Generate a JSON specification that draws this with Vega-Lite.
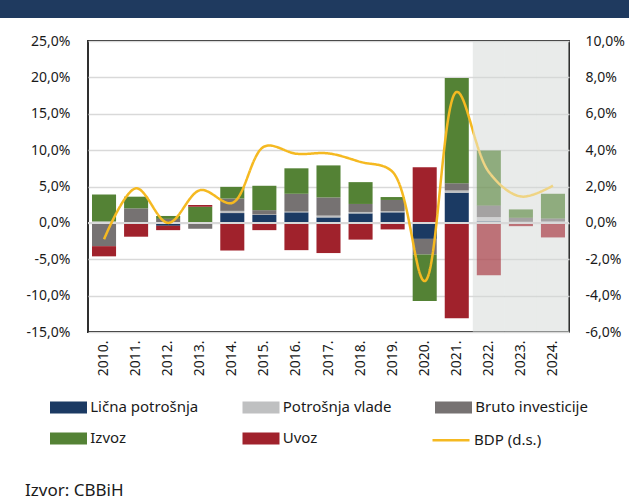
{
  "$schema": "https://vega.github.io/schema/vega-lite/v6.json",
  "padding": 0,
  "background": "white",
  "spacing": 15,
  "config": {
    "font": "Noto Sans",
    "view": {"stroke": null},
    "axis": {"labelFont": "Noto Sans", "labelColor": "#1a1a1a"},
    "legend": {"labelFont": "Noto Sans", "labelColor": "#1a1a1a"}
  },
  "resolve": {"legend": {"color": "independent", "strokeDash": "independent"}},
  "datasets": {
    "komponente": [
      {"godina": "2010.", "komponenta": "Lična potrošnja", "red": 1, "faza": "ostvarenje", "doprinos": 0.1},
      {"godina": "2010.", "komponenta": "Potrošnja vlade", "red": 2, "faza": "ostvarenje", "doprinos": 0.1},
      {"godina": "2010.", "komponenta": "Bruto investicije", "red": 3, "faza": "ostvarenje", "doprinos": -3.2},
      {"godina": "2010.", "komponenta": "Izvoz", "red": 4, "faza": "ostvarenje", "doprinos": 3.7},
      {"godina": "2010.", "komponenta": "Uvoz", "red": 5, "faza": "ostvarenje", "doprinos": -1.4},
      {"godina": "2011.", "komponenta": "Lična potrošnja", "red": 1, "faza": "ostvarenje", "doprinos": 0.05},
      {"godina": "2011.", "komponenta": "Potrošnja vlade", "red": 2, "faza": "ostvarenje", "doprinos": 0.05},
      {"godina": "2011.", "komponenta": "Bruto investicije", "red": 3, "faza": "ostvarenje", "doprinos": 1.9},
      {"godina": "2011.", "komponenta": "Izvoz", "red": 4, "faza": "ostvarenje", "doprinos": 1.6},
      {"godina": "2011.", "komponenta": "Uvoz", "red": 5, "faza": "ostvarenje", "doprinos": -1.9},
      {"godina": "2012.", "komponenta": "Lična potrošnja", "red": 1, "faza": "ostvarenje", "doprinos": -0.4},
      {"godina": "2012.", "komponenta": "Potrošnja vlade", "red": 2, "faza": "ostvarenje", "doprinos": 0.1},
      {"godina": "2012.", "komponenta": "Bruto investicije", "red": 3, "faza": "ostvarenje", "doprinos": 0.45},
      {"godina": "2012.", "komponenta": "Izvoz", "red": 4, "faza": "ostvarenje", "doprinos": 0.4},
      {"godina": "2012.", "komponenta": "Uvoz", "red": 5, "faza": "ostvarenje", "doprinos": -0.6},
      {"godina": "2013.", "komponenta": "Lična potrošnja", "red": 1, "faza": "ostvarenje", "doprinos": 0.05},
      {"godina": "2013.", "komponenta": "Potrošnja vlade", "red": 2, "faza": "ostvarenje", "doprinos": 0.05},
      {"godina": "2013.", "komponenta": "Bruto investicije", "red": 3, "faza": "ostvarenje", "doprinos": -0.8},
      {"godina": "2013.", "komponenta": "Izvoz", "red": 4, "faza": "ostvarenje", "doprinos": 2.1},
      {"godina": "2013.", "komponenta": "Uvoz", "red": 5, "faza": "ostvarenje", "doprinos": 0.25},
      {"godina": "2014.", "komponenta": "Lična potrošnja", "red": 1, "faza": "ostvarenje", "doprinos": 1.35},
      {"godina": "2014.", "komponenta": "Potrošnja vlade", "red": 2, "faza": "ostvarenje", "doprinos": 0.3},
      {"godina": "2014.", "komponenta": "Bruto investicije", "red": 3, "faza": "ostvarenje", "doprinos": 1.7},
      {"godina": "2014.", "komponenta": "Izvoz", "red": 4, "faza": "ostvarenje", "doprinos": 1.6},
      {"godina": "2014.", "komponenta": "Uvoz", "red": 5, "faza": "ostvarenje", "doprinos": -3.8},
      {"godina": "2015.", "komponenta": "Lična potrošnja", "red": 1, "faza": "ostvarenje", "doprinos": 1.1},
      {"godina": "2015.", "komponenta": "Potrošnja vlade", "red": 2, "faza": "ostvarenje", "doprinos": 0.05},
      {"godina": "2015.", "komponenta": "Bruto investicije", "red": 3, "faza": "ostvarenje", "doprinos": 0.6},
      {"godina": "2015.", "komponenta": "Izvoz", "red": 4, "faza": "ostvarenje", "doprinos": 3.35},
      {"godina": "2015.", "komponenta": "Uvoz", "red": 5, "faza": "ostvarenje", "doprinos": -1.0},
      {"godina": "2016.", "komponenta": "Lična potrošnja", "red": 1, "faza": "ostvarenje", "doprinos": 1.45},
      {"godina": "2016.", "komponenta": "Potrošnja vlade", "red": 2, "faza": "ostvarenje", "doprinos": 0.1},
      {"godina": "2016.", "komponenta": "Bruto investicije", "red": 3, "faza": "ostvarenje", "doprinos": 2.45},
      {"godina": "2016.", "komponenta": "Izvoz", "red": 4, "faza": "ostvarenje", "doprinos": 3.5},
      {"godina": "2016.", "komponenta": "Uvoz", "red": 5, "faza": "ostvarenje", "doprinos": -3.75},
      {"godina": "2017.", "komponenta": "Lična potrošnja", "red": 1, "faza": "ostvarenje", "doprinos": 0.75},
      {"godina": "2017.", "komponenta": "Potrošnja vlade", "red": 2, "faza": "ostvarenje", "doprinos": 0.25},
      {"godina": "2017.", "komponenta": "Bruto investicije", "red": 3, "faza": "ostvarenje", "doprinos": 2.5},
      {"godina": "2017.", "komponenta": "Izvoz", "red": 4, "faza": "ostvarenje", "doprinos": 4.4},
      {"godina": "2017.", "komponenta": "Uvoz", "red": 5, "faza": "ostvarenje", "doprinos": -4.15},
      {"godina": "2018.", "komponenta": "Lična potrošnja", "red": 1, "faza": "ostvarenje", "doprinos": 1.3},
      {"godina": "2018.", "komponenta": "Potrošnja vlade", "red": 2, "faza": "ostvarenje", "doprinos": 0.2},
      {"godina": "2018.", "komponenta": "Bruto investicije", "red": 3, "faza": "ostvarenje", "doprinos": 1.1},
      {"godina": "2018.", "komponenta": "Izvoz", "red": 4, "faza": "ostvarenje", "doprinos": 3.0},
      {"godina": "2018.", "komponenta": "Uvoz", "red": 5, "faza": "ostvarenje", "doprinos": -2.3},
      {"godina": "2019.", "komponenta": "Lična potrošnja", "red": 1, "faza": "ostvarenje", "doprinos": 1.45},
      {"godina": "2019.", "komponenta": "Potrošnja vlade", "red": 2, "faza": "ostvarenje", "doprinos": 0.15},
      {"godina": "2019.", "komponenta": "Bruto investicije", "red": 3, "faza": "ostvarenje", "doprinos": 1.55},
      {"godina": "2019.", "komponenta": "Izvoz", "red": 4, "faza": "ostvarenje", "doprinos": 0.4},
      {"godina": "2019.", "komponenta": "Uvoz", "red": 5, "faza": "ostvarenje", "doprinos": -0.9},
      {"godina": "2020.", "komponenta": "Lična potrošnja", "red": 1, "faza": "ostvarenje", "doprinos": -2.2},
      {"godina": "2020.", "komponenta": "Potrošnja vlade", "red": 2, "faza": "ostvarenje", "doprinos": 0.0},
      {"godina": "2020.", "komponenta": "Bruto investicije", "red": 3, "faza": "ostvarenje", "doprinos": -2.15},
      {"godina": "2020.", "komponenta": "Izvoz", "red": 4, "faza": "ostvarenje", "doprinos": -6.4},
      {"godina": "2020.", "komponenta": "Uvoz", "red": 5, "faza": "ostvarenje", "doprinos": 7.65},
      {"godina": "2021.", "komponenta": "Lična potrošnja", "red": 1, "faza": "ostvarenje", "doprinos": 4.15},
      {"godina": "2021.", "komponenta": "Potrošnja vlade", "red": 2, "faza": "ostvarenje", "doprinos": 0.3},
      {"godina": "2021.", "komponenta": "Bruto investicije", "red": 3, "faza": "ostvarenje", "doprinos": 1.0},
      {"godina": "2021.", "komponenta": "Izvoz", "red": 4, "faza": "ostvarenje", "doprinos": 14.45},
      {"godina": "2021.", "komponenta": "Uvoz", "red": 5, "faza": "ostvarenje", "doprinos": -13.1},
      {"godina": "2022.", "komponenta": "Lična potrošnja", "red": 1, "faza": "projekcija", "doprinos": 0.2},
      {"godina": "2022.", "komponenta": "Potrošnja vlade", "red": 2, "faza": "projekcija", "doprinos": 0.6},
      {"godina": "2022.", "komponenta": "Bruto investicije", "red": 3, "faza": "projekcija", "doprinos": 1.6},
      {"godina": "2022.", "komponenta": "Izvoz", "red": 4, "faza": "projekcija", "doprinos": 7.55},
      {"godina": "2022.", "komponenta": "Uvoz", "red": 5, "faza": "projekcija", "doprinos": -7.2},
      {"godina": "2023.", "komponenta": "Lična potrošnja", "red": 1, "faza": "projekcija", "doprinos": 0.05},
      {"godina": "2023.", "komponenta": "Potrošnja vlade", "red": 2, "faza": "projekcija", "doprinos": 0.1},
      {"godina": "2023.", "komponenta": "Bruto investicije", "red": 3, "faza": "projekcija", "doprinos": 0.55},
      {"godina": "2023.", "komponenta": "Izvoz", "red": 4, "faza": "projekcija", "doprinos": 1.15},
      {"godina": "2023.", "komponenta": "Uvoz", "red": 5, "faza": "projekcija", "doprinos": -0.45},
      {"godina": "2024.", "komponenta": "Lična potrošnja", "red": 1, "faza": "projekcija", "doprinos": 0.05},
      {"godina": "2024.", "komponenta": "Potrošnja vlade", "red": 2, "faza": "projekcija", "doprinos": 0.15},
      {"godina": "2024.", "komponenta": "Bruto investicije", "red": 3, "faza": "projekcija", "doprinos": 0.4},
      {"godina": "2024.", "komponenta": "Izvoz", "red": 4, "faza": "projekcija", "doprinos": 3.4},
      {"godina": "2024.", "komponenta": "Uvoz", "red": 5, "faza": "projekcija", "doprinos": -2.0}
    ],
    "bdp": [
      {"godina": "2010.", "rast": -0.9},
      {"godina": "2011.", "rast": 1.9},
      {"godina": "2012.", "rast": 0.0},
      {"godina": "2013.", "rast": 1.8},
      {"godina": "2014.", "rast": 1.1},
      {"godina": "2015.", "rast": 4.2},
      {"godina": "2016.", "rast": 3.8},
      {"godina": "2017.", "rast": 3.82},
      {"godina": "2018.", "rast": 3.35},
      {"godina": "2019.", "rast": 2.8},
      {"godina": "2020.", "rast": -3.2},
      {"godina": "2021.", "rast": 7.2},
      {"godina": "2022.", "rast": 2.8},
      {"godina": "2023.", "rast": 1.45},
      {"godina": "2024.", "rast": 2.05}
    ],
    "projekcija": [
      {"godina": "2022."},
      {"godina": "2023."},
      {"godina": "2024."}
    ]
  },
  "vconcat": [
    {
      "width": 629,
      "height": 18,
      "view": {"fill": "#1f3a5f", "stroke": null},
      "data": {"values": [{"naslov": ""}]},
      "mark": {"type": "text", "color": "white"},
      "encoding": {"text": {"field": "naslov", "type": "nominal"}}
    },
    {
      "spacing": 0,
      "resolve": {"legend": {"color": "independent", "strokeDash": "independent"}},
      "hconcat": [
        {
          "width": 24,
          "height": 10,
          "view": {"stroke": null, "fill": null},
          "data": {"values": [{"prazno": ""}]},
          "mark": {"type": "text"},
          "encoding": {"text": {"field": "prazno", "type": "nominal"}}
        },
        {
          "width": 481,
          "height": 291,
          "view": {"stroke": "#1a1a1a", "strokeWidth": 1.8, "fill": "white"},
          "title": {
            "text": "Izvor: CBBiH",
            "orient": "bottom",
            "anchor": "start",
            "frame": "group",
            "dx": -63,
            "offset": 35,
            "fontSize": 17,
            "fontWeight": "normal",
            "font": "Noto Sans",
            "color": "#1a1a1a"
          },
          "layer": [
            {
              "layer": [
                {
                  "data": {"name": "projekcija"},
                  "mark": {"type": "rect", "fill": "#d4d8d6", "opacity": 0.5},
                  "encoding": {
                    "x": {"field": "godina", "type": "ordinal", "scale": {"paddingInner": 0, "paddingOuter": 0}, "title": null},
                    "y": {"datum": 25, "type": "quantitative", "title": null},
                    "y2": {"datum": -15}
                  }
                },
                {
                  "data": {"name": "komponente"},
                  "mark": {"type": "bar", "width": {"band": 0.75}},
                  "encoding": {
                    "x": {
                      "field": "godina",
                      "type": "ordinal",
                      "scale": {"paddingInner": 0, "paddingOuter": 0},
                      "axis": {
                        "title": null,
                        "labelAngle": -90,
                        "labelFontSize": 14,
                        "labelPadding": 8,
                        "ticks": false,
                        "domain": false,
                        "grid": false
                      }
                    },
                    "y": {
                      "field": "doprinos",
                      "type": "quantitative",
                      "stack": "zero",
                      "scale": {"domain": [-15, 25], "nice": false, "zero": false},
                      "axis": {
                        "title": null,
                        "orient": "left",
                        "values": [-15, -10, -5, 0, 5, 10, 15, 20, 25],
                        "tickCount": 12,
                        "labelExpr": "replace(replace(format(datum.value, '.1f'), '.', ','), '\u2212', '-') + '%'",
                        "labelFontSize": 14,
                        "labelPadding": 18,
                        "labelOverlap": false,
                        "ticks": false,
                        "domain": false,
                        "grid": true,
                        "gridColor": "#d9d9d9",
                        "gridWidth": 1.5
                      }
                    },
                    "color": {
                      "field": "komponenta",
                      "type": "nominal",
                      "scale": {
                        "domain": ["Lična potrošnja", "Potrošnja vlade", "Bruto investicije", "Izvoz", "Uvoz"],
                        "range": ["#1b3a63", "#bfc0c1", "#767272", "#548235", "#a0222c"]
                      },
                      "legend": {
                        "title": null,
                        "orient": "none",
                        "legendX": -29,
                        "legendY": 356.7,
                        "columns": 3,
                        "direction": "horizontal",
                        "gridAlign": "all",
                        "columnPadding": 39.5,
                        "rowPadding": 13.2,
                        "padding": 0,
                        "symbolType": "M-2,-0.65H2V0.65H-2Z",
                        "symbolSize": 342.25,
                        "symbolStrokeWidth": 0,
                        "symbolOpacity": 1,
                        "labelFontSize": 15,
                        "labelOffset": 12.25,
                        "labelLimit": 300
                      }
                    },
                    "order": {"field": "red", "type": "quantitative"},
                    "opacity": {
                      "field": "faza",
                      "type": "nominal",
                      "scale": {"domain": ["ostvarenje", "projekcija"], "range": [1, 0.6]},
                      "legend": null
                    }
                  }
                },
                {
                  "data": {"values": [{"nula": 0}]},
                  "mark": {"type": "rule", "color": "#d9d9d9", "strokeWidth": 2},
                  "encoding": {
                    "y": {"field": "nula", "type": "quantitative", "title": null}
                  }
                }
              ]
            },
            {
              "data": {"name": "bdp"},
              "mark": {
                "type": "line",
                "interpolate": "catmull-rom",
                "strokeWidth": 2.5,
                "stroke": {
                  "gradient": "linear",
                  "x1": 0, "x2": 1, "y1": 0, "y2": 0,
                  "stops": [
                    {"offset": 0, "color": "#f5b921"},
                    {"offset": 0.821, "color": "#f5b921"},
                    {"offset": 0.822, "color": "#efd484"},
                    {"offset": 1, "color": "#efd484"}
                  ]
                }
              },
              "encoding": {
                "x": {"field": "godina", "type": "ordinal", "scale": {"paddingInner": 0, "paddingOuter": 0}, "title": null},
                "y": {
                  "field": "rast",
                  "type": "quantitative",
                  "scale": {"domain": [-6, 10], "nice": false, "zero": false},
                  "axis": {
                    "title": null,
                    "orient": "right",
                    "values": [-6, -4, -2, 0, 2, 4, 6, 8, 10],
                    "tickCount": 12,
                    "labelExpr": "replace(replace(format(datum.value, '.1f'), '.', ','), '\u2212', '-') + '%'",
                    "labelFontSize": 14,
                    "labelPadding": 16,
                    "labelOverlap": false,
                    "ticks": false,
                    "domain": false,
                    "grid": false
                  }
                },
                "strokeDash": {
                  "datum": "BDP (d.s.)",
                  "type": "nominal",
                  "scale": {"range": [[1, 0]]},
                  "legend": {
                    "title": null,
                    "orient": "none",
                    "legendX": 343,
                    "legendY": 379.3,
                    "padding": 0,
                    "symbolType": "stroke",
                    "symbolSize": 1369,
                    "symbolStrokeWidth": 2.5,
                    "symbolStrokeColor": "#f5b921",
                    "labelFontSize": 15,
                    "labelOffset": 3,
                    "encode": {"symbols": {"update": {"stroke": {"value": "#f5b921"}, "strokeDash": {"value": [1, 0]}}}}
                  }
                }
              }
            }
          ],
          "resolve": {"scale": {"y": "independent"}}
        }
      ]
    }
  ]
}
